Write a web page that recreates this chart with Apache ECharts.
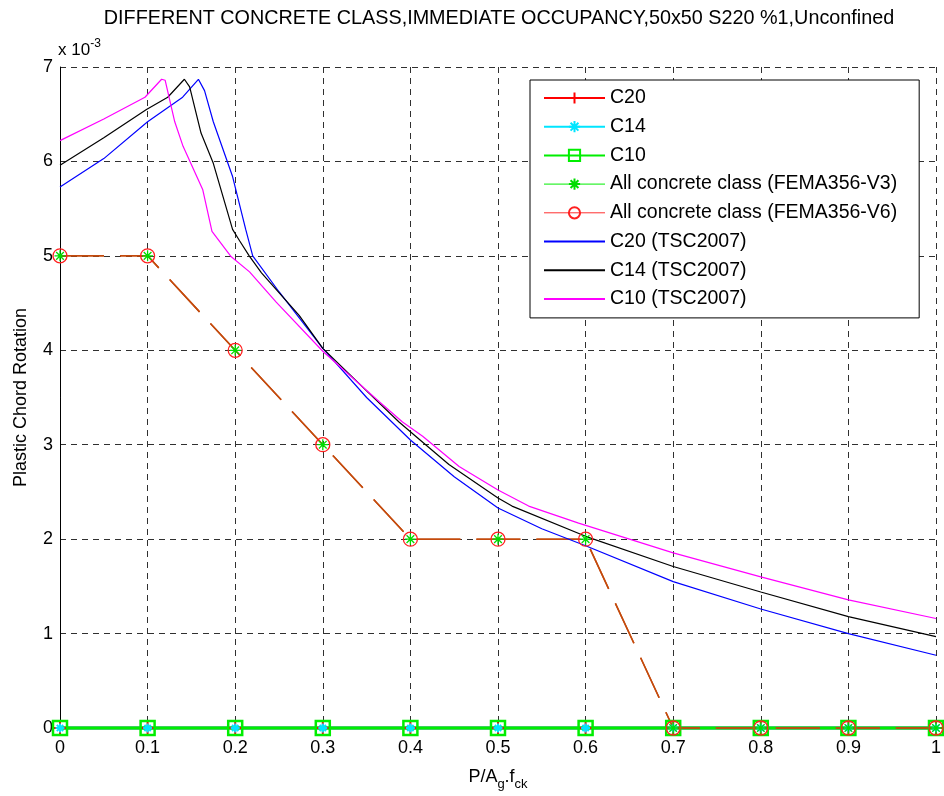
<!DOCTYPE html>
<html>
<head>
<meta charset="utf-8">
<script src="https://cdn.jsdelivr.net/npm/echarts@6/dist/echarts.min.js"></script>
<style>
html,body{margin:0;padding:0;background:#fff;}
#chart{width:944px;height:796px;}
</style>
</head>
<body>
<div id="chart"></div>
<script>
// ---- data ----
const xTicks = [0, 0.1, 0.2, 0.3, 0.4, 0.5, 0.6, 0.7, 0.8, 0.9, 1];
const c20 = [0, 0, 0, 0, 0, 0, 0, 0, 0, 0, 0];
const c14 = [0, 0, 0, 0, 0, 0, 0, 0, 0, 0, 0];
const c10 = [0, 0, 0, 0, 0, 0, 0, 0, 0, 0, 0];
const femaV3 = [5, 5, 4, 3, 2, 2, 2, 0, 0, 0, 0];
const femaV6 = [5, 5, 4, 3, 2, 2, 2, 0, 0, 0, 0];

const tscC20X = [0, 0.05, 0.1, 0.14, 0.158, 0.165, 0.175, 0.197, 0.212, 0.22, 0.25, 0.3, 0.35, 0.4, 0.45, 0.5, 0.55, 0.6, 0.7, 0.8, 0.9, 1.0];
const tscC20Y = [5.73, 6.03, 6.42, 6.68, 6.87, 6.75, 6.42, 5.84, 5.28, 5.0, 4.62, 4.02, 3.5, 3.05, 2.66, 2.33, 2.11, 1.93, 1.55, 1.26, 1.0, 0.77];

const tscC14X = [0, 0.05, 0.0987, 0.123, 0.142, 0.148, 0.161, 0.175, 0.197, 0.205, 0.216, 0.23, 0.273, 0.3, 0.35, 0.387, 0.406, 0.444, 0.5, 0.516, 0.6, 0.7, 0.8, 0.9, 1.0];
const tscC14Y = [5.96, 6.25, 6.55, 6.68, 6.87, 6.79, 6.30, 5.98, 5.28, 5.16, 5.0, 4.82, 4.37, 4.02, 3.57, 3.24, 3.09, 2.79, 2.435, 2.35, 2.03, 1.71, 1.44, 1.18, 0.967];

const tscC10X = [0, 0.05, 0.097, 0.116, 0.12, 0.131, 0.1405, 0.163, 0.1735, 0.1955, 0.2164, 0.2468, 0.3, 0.3645, 0.391, 0.414, 0.4556, 0.5, 0.535, 0.592, 0.7, 0.8, 0.9, 1.0];
const tscC10Y = [6.22, 6.45, 6.68, 6.87, 6.86, 6.42, 6.16, 5.70, 5.26, 4.99, 4.83, 4.51, 3.99, 3.455, 3.24, 3.09, 2.77, 2.52, 2.35, 2.17, 1.855, 1.60, 1.357, 1.16];

const seriesNames = ['C20', 'C14', 'C10', 'All concrete class (FEMA356-V3)', 'All concrete class (FEMA356-V6)', 'C20 (TSC2007)', 'C14 (TSC2007)', 'C10 (TSC2007)'];

// ---- build ----
const pairs = (xs, ys) => xs.map((x, i) => [x, ys[i]]);
const FONT = 'Liberation Sans, Arial, sans-serif';
const femaLineColor = '#c44a0c';
const HIDDEN = 'rgba(0,0,0,0)';

const chart = echarts.init(document.getElementById('chart'), null, {renderer: 'canvas'});

function tscSeries(name, xs, ys, color) {
  return {
    name: name, type: 'line', clip: false, data: pairs(xs, ys),
    showSymbol: false, symbol: 'circle', symbolSize: 1,
    lineStyle: {color: color, width: 1.2},
    itemStyle: {color: HIDDEN, borderColor: HIDDEN},
    emphasis: {disabled: true}
  };
}

const option = {
  animation: false,
  backgroundColor: '#ffffff',
  textStyle: {fontFamily: FONT, color: '#000'},
  grid: {left: 60, right: 6, top: 67, bottom: 65, containLabel: false},
  graphic: [
    {type: 'text', x: 499, y: 9, style: {text: 'DIFFERENT CONCRETE CLASS,IMMEDIATE OCCUPANCY,50x50 S220 %1,Unconfined', font: '19.8px ' + FONT, fill: '#000', align: 'center', verticalAlign: 'top'}},
    {type: 'text', x: 58, y: 38, style: {text: 'x 10{sup|-3}', font: '17px ' + FONT, fill: '#000', rich: {sup: {fontSize: 12, verticalAlign: 'bottom', padding: [0, 0, 12, 0], fontFamily: FONT}}}}
  ],
  xAxis: {
    type: 'value', min: 0, max: 1, interval: 0.1,
    name: 'P/A{sub|g}.f{sub|ck}', nameLocation: 'middle', nameGap: 36,
    nameTextStyle: {fontSize: 18, fontFamily: FONT, color: '#000', rich: {sub: {fontSize: 13, verticalAlign: 'top', padding: [14, 0, 0, 0], fontFamily: FONT}}},
    axisLine: {show: true, onZero: false, lineStyle: {color: '#000', width: 1}},
    axisTick: {show: false},
    axisLabel: {fontSize: 18, color: '#000', margin: 11, fontFamily: FONT, formatter: v => String(Math.round(v * 10) / 10)},
    splitLine: {show: true, lineStyle: {color: '#303030', type: [6, 5], width: 1}}
  },
  yAxis: {
    type: 'value', min: 0, max: 7, interval: 1,
    name: 'Plastic Chord Rotation', nameLocation: 'middle', nameGap: 30,
    nameTextStyle: {fontSize: 18, fontFamily: FONT, color: '#000'},
    axisLine: {show: true, lineStyle: {color: '#000', width: 1}},
    axisTick: {show: false},
    axisLabel: {fontSize: 18, color: '#000', margin: 7, fontFamily: FONT},
    splitLine: {show: true, lineStyle: {color: '#303030', type: [6, 5], width: 1}}
  },
  legend: {
    orient: 'vertical', left: 530, top: 80,
    backgroundColor: '#fff', borderColor: '#000', borderWidth: 1,
    padding: [8, 22, 9, 13],
    itemWidth: 61, itemHeight: 14, itemGap: 8.7,
    textStyle: {fontSize: 19.5, lineHeight: 20, color: '#000', fontFamily: FONT},
    data: [
      {name: seriesNames[0]},
      {name: seriesNames[1]},
      {name: seriesNames[2]},
      {name: seriesNames[3], lineStyle: {color: '#00ee00', type: 'solid', width: 1}},
      {name: seriesNames[4], lineStyle: {color: '#ff3030', type: 'solid', width: 1}},
      {name: seriesNames[5]},
      {name: seriesNames[6]},
      {name: seriesNames[7]}
    ]
  },
  series: [
    {
      name: seriesNames[0], type: 'line', clip: false, data: pairs(xTicks, c20),
      lineStyle: {color: '#ff0000', width: 3},
      symbol: 'path://M0,-6L0,6M-6,0L6,0', symbolSize: 12,
      itemStyle: {color: HIDDEN, borderColor: '#ff0000', borderWidth: 2}
    },
    {
      name: seriesNames[1], type: 'line', clip: false, data: pairs(xTicks, c14),
      lineStyle: {color: '#00e5ff', width: 3},
      symbol: 'path://M0,-5L0,5M-5,0L5,0M-3.5,-3.5L3.5,3.5M-3.5,3.5L3.5,-3.5', symbolSize: 9,
      itemStyle: {color: HIDDEN, borderColor: '#00e5ff', borderWidth: 2}
    },
    {
      name: seriesNames[2], type: 'line', clip: false, data: pairs(xTicks, c10),
      lineStyle: {color: '#00ee00', width: 3},
      symbol: 'rect', symbolSize: 14,
      itemStyle: {color: HIDDEN, borderColor: '#00ee00', borderWidth: 2.5}
    },
    {
      name: seriesNames[3], type: 'line', clip: false, data: pairs(xTicks, femaV3),
      lineStyle: {color: femaLineColor, width: 1.5, type: [44, 16]},
      symbol: 'path://M0,-6L0,6M-6,0L6,0M-4.2,-4.2L4.2,4.2M-4.2,4.2L4.2,-4.2', symbolSize: 11,
      itemStyle: {color: HIDDEN, borderColor: '#00dd00', borderWidth: 1.3}
    },
    {
      name: seriesNames[4], type: 'line', clip: false, data: pairs(xTicks, femaV6),
      lineStyle: {color: femaLineColor, width: 1.5, type: [44, 16]},
      symbol: 'circle', symbolSize: 14,
      itemStyle: {color: HIDDEN, borderColor: '#ff2020', borderWidth: 1.3}
    },
    tscSeries(seriesNames[5], tscC20X, tscC20Y, '#0000ff'),
    tscSeries(seriesNames[6], tscC14X, tscC14Y, '#000000'),
    tscSeries(seriesNames[7], tscC10X, tscC10Y, '#ff00ff')
  ]
};
chart.setOption(option);
</script>
</body>
</html>
